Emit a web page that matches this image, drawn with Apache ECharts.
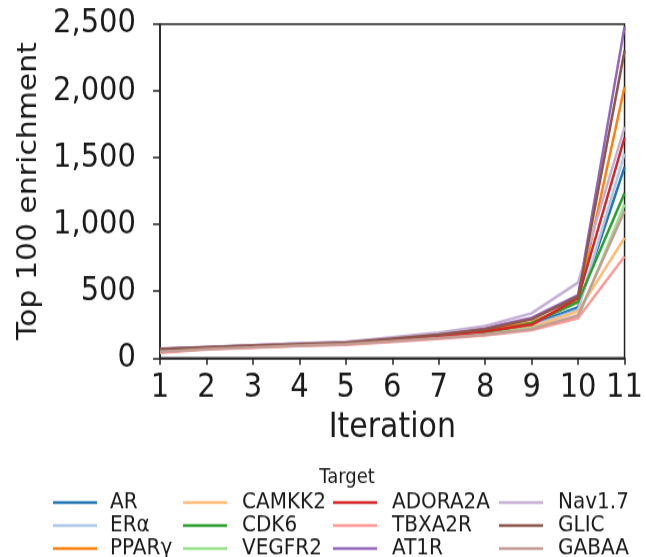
<!DOCTYPE html>
<html>
<head>
<meta charset="utf-8">
<script src="https://cdn.jsdelivr.net/npm/echarts@6/dist/echarts.min.js"></script>
<style>
  html, body { margin: 0; padding: 0; background: #fff; overflow: hidden; }
  #wrap { width: 646px; height: 557px; overflow: hidden; }
  /* the figure is drawn with a taller-than-wide aspect, so the canvas is stretched vertically */
  #chart { width: 646px; height: 484px; transform: scaleY(1.15); transform-origin: 0 0; }
</style>
</head>
<body>
<div id="wrap"><div id="chart"></div></div>
<script>
// Iterations on the x axis
const iterations = [1, 2, 3, 4, 5, 6, 7, 8, 9, 10, 11];

// Top 100 enrichment per target, one value per iteration
const AR      = [55, 75, 88, 100, 110, 135, 160, 195, 250, 380, 1430];
const ERa     = [50, 72, 85, 98, 108, 130, 155, 190, 240, 360, 1530];
const PPARg   = [60, 78, 90, 102, 112, 140, 168, 205, 265, 420, 2030];
const CAMKK2  = [45, 70, 82, 95, 105, 128, 150, 180, 230, 350, 900];
const CDK6    = [55, 74, 86, 98, 108, 132, 158, 185, 260, 420, 1235];
const VEGFR2  = [50, 70, 84, 96, 106, 128, 152, 178, 225, 300, 1150];
const ADORA2A = [65, 78, 90, 100, 110, 135, 160, 200, 250, 450, 1650];
const TBXA2R  = [40, 65, 78, 90, 100, 122, 145, 170, 210, 300, 760];
const AT1R    = [70, 82, 95, 108, 118, 150, 180, 225, 300, 470, 2480];
const Nav17   = [60, 80, 95, 110, 122, 155, 190, 240, 335, 565, 1730];
const GLIC    = [68, 80, 92, 104, 114, 145, 175, 215, 290, 460, 2300];
const GABAA   = [45, 68, 80, 93, 104, 126, 148, 175, 215, 320, 1100];

// Legend names, grouped by legend column
const legendColumns = [
  ['AR', 'ERα', 'PPARγ'],
  ['CAMKK2', 'CDK6', 'VEGFR2'],
  ['ADORA2A', 'TBXA2R', 'AT1R'],
  ['Nav1.7', 'GLIC', 'GABAA']
];

const seriesDefs = [
  { name: 'AR',      data: AR,      color: '#1f77b4' },
  { name: 'ERα',     data: ERa,     color: '#aec7e8' },
  { name: 'PPARγ',   data: PPARg,   color: '#ff7f0e' },
  { name: 'CAMKK2',  data: CAMKK2,  color: '#ffbb78' },
  { name: 'CDK6',    data: CDK6,    color: '#2ca02c' },
  { name: 'VEGFR2',  data: VEGFR2,  color: '#98df8a' },
  { name: 'ADORA2A', data: ADORA2A, color: '#d62728' },
  { name: 'TBXA2R',  data: TBXA2R,  color: '#ff9896' },
  { name: 'AT1R',    data: AT1R,    color: '#9467bd' },
  { name: 'Nav1.7',  data: Nav17,   color: '#c5b0d5' },
  { name: 'GLIC',    data: GLIC,    color: '#8c564b' },
  { name: 'GABAA',   data: GABAA,   color: '#c49c94' }
];

const FONT = 'DejaVu Sans';
const INK = '#1a1a1a';
const chart = echarts.init(document.getElementById('chart'), null, {
  renderer: 'canvas', width: 646, height: 484
});

// icon left edge and text gap for each legend column
const legendX = [
  { icon: 53, gap: 13 },
  { icon: 183, gap: 15 },
  { icon: 333, gap: 15 },
  { icon: 499, gap: 15 }
];

const legends = legendColumns.map((names, i) => ({
  show: true,
  orient: 'vertical',
  left: legendX[i].icon,
  top: 427,
  width: 150,
  height: 80,
  data: names,
  icon: 'rect',
  itemWidth: 44,
  itemHeight: 2.5,
  itemGap: 0,
  padding: 0,
  selectedMode: false,
  textStyle: {
    fontFamily: FONT,
    fontSize: 20,
    color: INK,
    lineHeight: 19,
    padding: [0, 0, 0, legendX[i].gap - 5]
  }
}));

chart.setOption({
  animation: false,
  backgroundColor: '#fff',
  textStyle: { fontFamily: FONT },
  title: {
    text: 'Target',
    left: 342,
    top: 401,
    textAlign: 'center',
    textStyle: { fontFamily: FONT, fontSize: 18, fontWeight: 'normal', color: INK }
  },
  legend: legends,
  grid: {
    left: 160,
    top: 20.9,
    width: 469,
    height: 290.4,
    show: true,
    borderColor: '#222',
    borderWidth: 1.5,
    backgroundColor: 'transparent'
  },
  xAxis: {
    type: 'value',
    min: 1,
    max: 11,
    interval: 1,
    name: 'Iteration',
    nameLocation: 'middle',
    nameGap: 46,
    nameTextStyle: { fontFamily: FONT, fontSize: 30, color: INK },
    axisLine: { show: true, lineStyle: { color: '#222', width: 1.5 } },
    axisTick: { show: true, length: 6, lineStyle: { color: '#222', width: 1.5 } },
    axisLabel: { fontFamily: FONT, fontSize: 29, color: INK, margin: 12 },
    splitLine: { show: false }
  },
  yAxis: {
    type: 'value',
    min: 0,
    max: 2500,
    interval: 500,
    name: 'Top 100 enrichment',
    nameLocation: 'middle',
    nameRotate: 90,
    nameGap: 114,
    nameTextStyle: { fontFamily: FONT, fontSize: 26, color: INK },
    axisLine: { show: true, lineStyle: { color: '#222', width: 1.5 } },
    axisTick: { show: true, length: 7, lineStyle: { color: '#222', width: 1.5 } },
    axisLabel: {
      fontFamily: FONT,
      fontSize: 29,
      color: INK,
      margin: 24,
      formatter: v => v.toLocaleString('en-US')
    },
    splitLine: { show: false }
  },
  series: seriesDefs.map(s => ({
    type: 'line',
    name: s.name,
    data: iterations.map((x, i) => [x, s.data[i]]),
    symbol: 'none',
    color: s.color,
    lineStyle: { color: s.color, width: 2.5 },
    itemStyle: { color: s.color },
    z: 2
  }))
});
</script>
</body>
</html>
